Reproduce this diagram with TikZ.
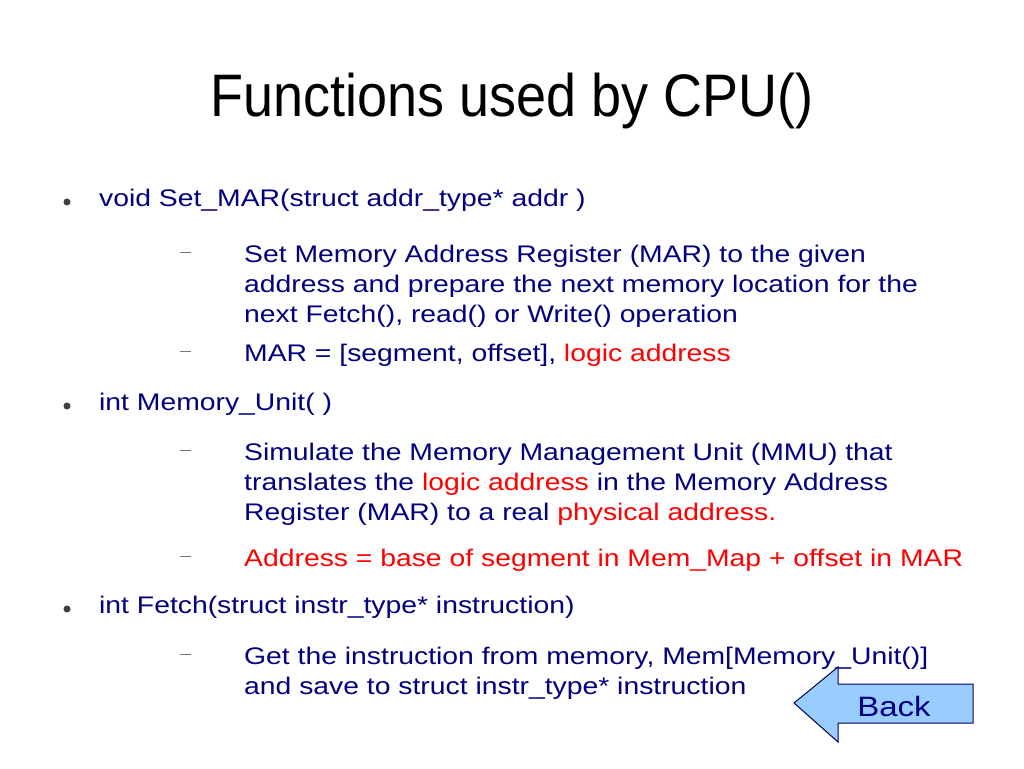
\documentclass[tikz,border=0pt]{standalone}
\usepackage{fontspec}
\setmainfont{Liberation Sans}
\newfontfamily\bodyfont[FakeStretch=1.18]{Liberation Sans}
\newfontfamily\titlefont[FakeStretch=0.9]{Liberation Sans}
\definecolor{navy}{HTML}{000080}
\definecolor{backblue}{HTML}{99CCFF}
\definecolor{redtxt}{HTML}{FF0000}
\begin{document}
\begin{tikzpicture}[x=1pt,y=1pt,
  txt/.style={anchor=base west, inner sep=0pt, text=navy, font=\bodyfont\fontsize{24}{30}\selectfont},
  dotmark/.style={fill=black!75},
  dashmark/.style={draw=black!55, line width=1pt}]
\fill[white] (0,0) rectangle (1024,768);
\useasboundingbox (0,0) rectangle (1024,768);
\draw (512,651) node[anchor=base, inner sep=0pt, font=\titlefont\fontsize{60}{72}\selectfont] (title) {Functions used by CPU()};
% bullet 1
\fill[dotmark] (67,566) circle (3.5);
\draw (99,561) node[txt] (setmar) {void Set\_MAR(struct addr\_type* addr )};
\draw[dashmark] (180,515) -- (191,515);
\draw (244,505) node[txt] (marA) {Set Memory Address Register (MAR) to the given};
\draw (244,475) node[txt] (marB) {address and prepare the next memory location for the};
\draw (244,445) node[txt] (marC) {next Fetch(), read() or Write() operation};
\draw[dashmark] (180,416) -- (191,416);
\draw (244,406) node[txt] (marD) {MAR = [segment, offset], \textcolor{redtxt}{logic address}};
% bullet 2
\fill[dotmark] (67,362) circle (3.5);
\draw (99,357) node[txt] (memunit) {int Memory\_Unit( )};
\draw[dashmark] (180,317) -- (191,317);
\draw (244,307) node[txt] (mmuA) {Simulate the Memory Management Unit (MMU) that};
\draw (244,277) node[txt] (mmuB) {translates the \textcolor{redtxt}{logic address} in the Memory Address};
\draw (244,247) node[txt] (mmuC) {Register (MAR) to a real \textcolor{redtxt}{physical address.}};
\draw[dashmark] (180,211) -- (191,211);
\draw (244,201) node[txt, text=redtxt] (mmuD) {Address = base of segment in Mem\_Map + offset in MAR};
% bullet 3
\fill[dotmark] (67,159) circle (3.5);
\draw (99,154) node[txt] (fetch) {int Fetch(struct instr\_type* instruction)};
\draw[dashmark] (180,114) -- (191,114);
\draw (244,104) node[txt] (fetchA) {Get the instruction from memory, Mem[Memory\_Unit()]};
\draw (244,74) node[txt] (fetchB) {and save to struct instr\_type* instruction};
% back button
\filldraw[fill=backblue, draw=navy!70!black, line width=1pt] (794,65) -- (838,101) -- (838,84) -- (973,84)
  -- (973,45) -- (838,45) -- (838,26) -- cycle;
\draw (894,62) node[text=navy, font=\bodyfont\fontsize{28}{34}\selectfont] (back) {Back};
\end{tikzpicture}
\end{document}
